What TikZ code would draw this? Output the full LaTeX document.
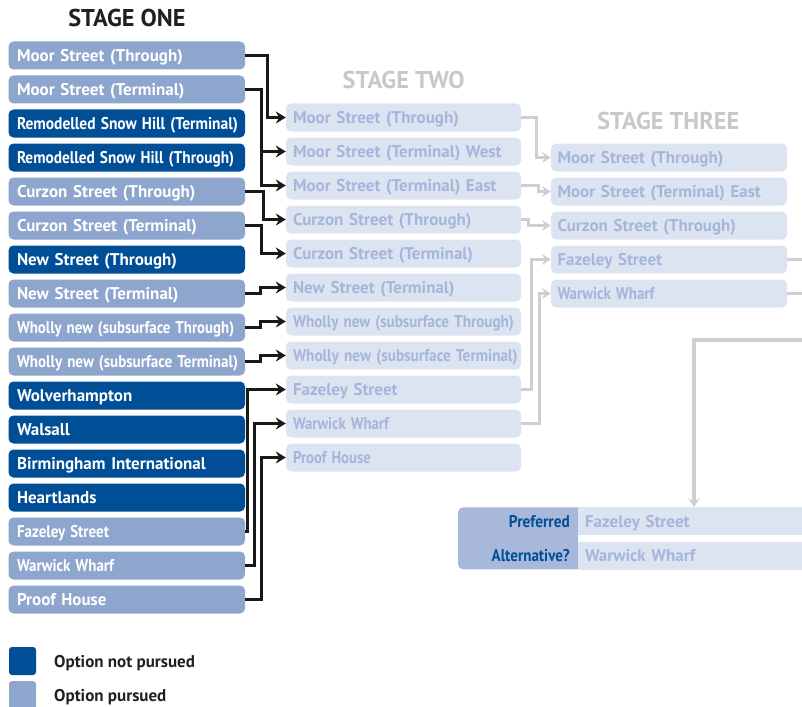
\documentclass[tikz,border=0pt]{standalone}
\usepackage{fontspec}
\setmainfont{PT Sans}
\usetikzlibrary{arrows.meta}
\definecolor{notp}{RGB}{0,79,150}
\definecolor{purs}{RGB}{142,165,206}
\definecolor{sfill}{RGB}{220,227,241}
\definecolor{stext}{RGB}{166,182,219}
\definecolor{hgray}{RGB}{200,200,200}
\definecolor{gline}{RGB}{207,207,207}
\definecolor{prefc}{RGB}{168,184,219}
\definecolor{ink}{RGB}{35,31,32}
\newcommand\hsq[2]{\scalebox{#1}[1]{#2}}
\tikzset{
  boxtxt/.style={font=\bfseries\fontsize{17}{19}\selectfont},
  sone/.style={boxtxt, rounded corners=5pt, minimum height=28pt, inner ysep=0pt, inner xsep=8.5pt,
     text width=219.5pt, align=left, text height=12pt, text depth=0pt, text=white},
  notpb/.style={sone, fill=notp},
  pursb/.style={sone, fill=purs},
  stwo/.style={boxtxt, fill=sfill, text=stext, rounded corners=5pt, minimum height=28pt, inner ysep=0pt,
     inner xsep=7pt, text width=221pt, align=left, text height=12pt, text depth=0pt},
  sthree/.style={boxtxt, fill=sfill, text=stext, rounded corners=5pt, minimum height=28pt, inner ysep=0pt,
     inner xsep=6.5pt, text width=223pt, align=left, text height=12pt, text depth=0pt},
  hdr/.style={font=\bfseries\fontsize{24.3}{27}\selectfont, anchor=base, inner sep=0pt},
  bconn/.style={draw=black!90, line width=3.4pt, -{Stealth[length=10pt,width=12pt,inset=3.5pt]}},
  gconn/.style={draw=gline, line width=3.4pt, -{Stealth[length=9pt,width=11pt,inset=3.5pt]}},
  glin/.style={draw=gline, line width=3.4pt},
  bar/.style={boxtxt, fill=sfill, text=stext, minimum height=27.5pt, inner ysep=0pt, inner xsep=7pt,
     text width=218pt, align=left, text height=12pt, text depth=0pt},
  preftxt/.style={boxtxt, text=notp, anchor=east, inner sep=0pt, text height=12pt, text depth=0pt},
  legtxt/.style={boxtxt, text=ink, anchor=west, inner sep=0pt, text height=12pt, text depth=0pt},
}
\begin{document}
\begin{tikzpicture}[x=1pt,y=-1pt]
\useasboundingbox (0,0) rectangle (802,706);
% headers
\node[hdr, text=ink] (h1) at (127,26.7) {STAGE ONE};
\node[hdr, text=hgray] (h2) at (403.7,88.3) {STAGE TWO};
\node[hdr, text=hgray] (h3) at (668.3,129.3) {STAGE THREE};
% stage one
\node[pursb] (a1) at (126.75,55.5) {Moor Street (Through)};
\node[pursb] (a2) at (126.75,89.5) {Moor Street (Terminal)};
\node[notpb] (a3) at (126.75,123.5) {\hsq{0.91}{Remodelled Snow Hill (Terminal)}};
\node[notpb] (a4) at (126.75,157.5) {\hsq{0.90}{Remodelled Snow Hill (Through)}};
\node[pursb] (a5) at (126.75,191.5) {Curzon Street (Through)};
\node[pursb] (a6) at (126.75,225.5) {Curzon Street (Terminal)};
\node[notpb] (a7) at (126.75,259.5) {New Street (Through)};
\node[pursb] (a8) at (126.75,293.5) {New Street (Terminal)};
\node[pursb] (a9) at (126.75,327.5) {\hsq{0.875}{Wholly new (subsurface Through)}};
\node[pursb] (a10) at (126.75,361.5) {\hsq{0.885}{Wholly new (subsurface Terminal)}};
\node[notpb] (a11) at (126.75,395.5) {Wolverhampton};
\node[notpb] (a12) at (126.75,429.5) {Walsall};
\node[notpb] (a13) at (126.75,463.5) {Birmingham International};
\node[notpb] (a14) at (126.75,497.5) {Heartlands};
\node[pursb] (a15) at (126.75,531.5) {\hsq{0.88}{Fazeley Street}};
\node[pursb] (a16) at (126.75,565.5) {\hsq{0.88}{Warwick Wharf}};
\node[pursb] (a17) at (126.75,599.5) {Proof House};
% stage two
\node[stwo] (b1) at (403.5,117.5) {Moor Street (Through)};
\node[stwo] (b2) at (403.5,151.5) {Moor Street (Terminal) West};
\node[stwo] (b3) at (403.5,185.5) {Moor Street (Terminal) East};
\node[stwo] (b4) at (403.5,219.5) {Curzon Street (Through)};
\node[stwo] (b5) at (403.5,253.5) {Curzon Street (Terminal)};
\node[stwo] (b6) at (403.5,287.5) {New Street (Terminal)};
\node[stwo] (b7) at (403.5,321.5) {\hsq{0.89}{Wholly new (subsurface Through)}};
\node[stwo] (b8) at (403.5,355.5) {\hsq{0.9}{Wholly new (subsurface Terminal)}};
\node[stwo] (b9) at (403.5,389.5) {Fazeley Street};
\node[stwo] (b10) at (403.5,423.5) {\hsq{0.87}{Warwick Wharf}};
\node[stwo] (b11) at (403.5,457.5) {\hsq{0.87}{Proof House}};
% stage three
\node[sthree] (c1) at (669,157.5) {Moor Street (Through)};
\node[sthree] (c2) at (669,191.5) {Moor Street (Terminal) East};
\node[sthree] (c3) at (669,225.5) {Curzon Street (Through)};
\node[sthree] (c4) at (669,259.5) {Fazeley Street};
\node[sthree] (c5) at (669,293.5) {\hsq{0.88}{Warwick Wharf}};
% black connectors
\draw[bconn] (a1.east) -- ++(22.5,0) |- (b1.west);
\draw[bconn] (a2.east) -- ++(16.5,0) |- (b3.west);
\draw[bconn] (a2.east) -- ++(16.5,0) |- (b2.west);
\draw[bconn] (a5.east) -- ++(18,0) |- (b4.west);
\draw[bconn] (a6.east) -- ++(16,0) |- (b5.west);
\draw[bconn] (a8.east) -- ++(15,0) |- (b6.west);
\draw[bconn] (a9.east) -- ++(15,0) |- (b7.west);
\draw[bconn] (a10.east) -- ++(15,0) |- (b8.west);
\draw[bconn] (a15.east) -- ++(2.5,0) |- (b9.west);
\draw[bconn] (a16.east) -- ++(9,0) |- (b10.west);
\draw[bconn] (a17.east) -- ++(16.5,0) |- (b11.west);
% gray connectors
\draw[gconn] (b1.east) -- ++(15,0) |- (c1.west);
\draw[gconn] (b3.east) -- ++(17,0) |- (c2.west);
\draw[gconn] (b4.east) -- ++(7,0) |- (c3.west);
\draw[gconn] (b9.east) -- ++(10,0) |- (c4.west);
\draw[gconn] (b10.east) -- ++(18,0) |- (c5.west);
% final
\coordinate (e1) at (810,259.5);
\coordinate (e2) at (810,293.5);
\coordinate (e3) at (810,340);
\draw[glin] (c4.east) -- (e1);
\draw[glin] (c5.east) -- (e2);
\fill[prefc] (578,569.3) [rounded corners=5pt] -- (458,569.3) -- (458,507.3) [sharp corners] -- (578,507.3) -- cycle;
\node[bar] (fz) at (694,521.2) {Fazeley Street};
\node[bar] (ww) at (694,555.8) {Warwick Wharf};
\draw[gconn] (e3) -| (fz.north);
\node[preftxt] (p1) at (570,521.2) {\hsq{0.9}{Preferred}};
\node[preftxt] (p2) at (570,555.8) {\hsq{0.885}{Alternative?}};
% legend
\fill[notp, rounded corners=3pt] (9,647) rectangle (36,675);
\fill[purs, rounded corners=3pt] (9,681) rectangle (36,712);
\node[legtxt] (l1) at (54,661) {Option not pursued};
\node[legtxt] (l2) at (54,695) {Option pursued};
\end{tikzpicture}
\end{document}
